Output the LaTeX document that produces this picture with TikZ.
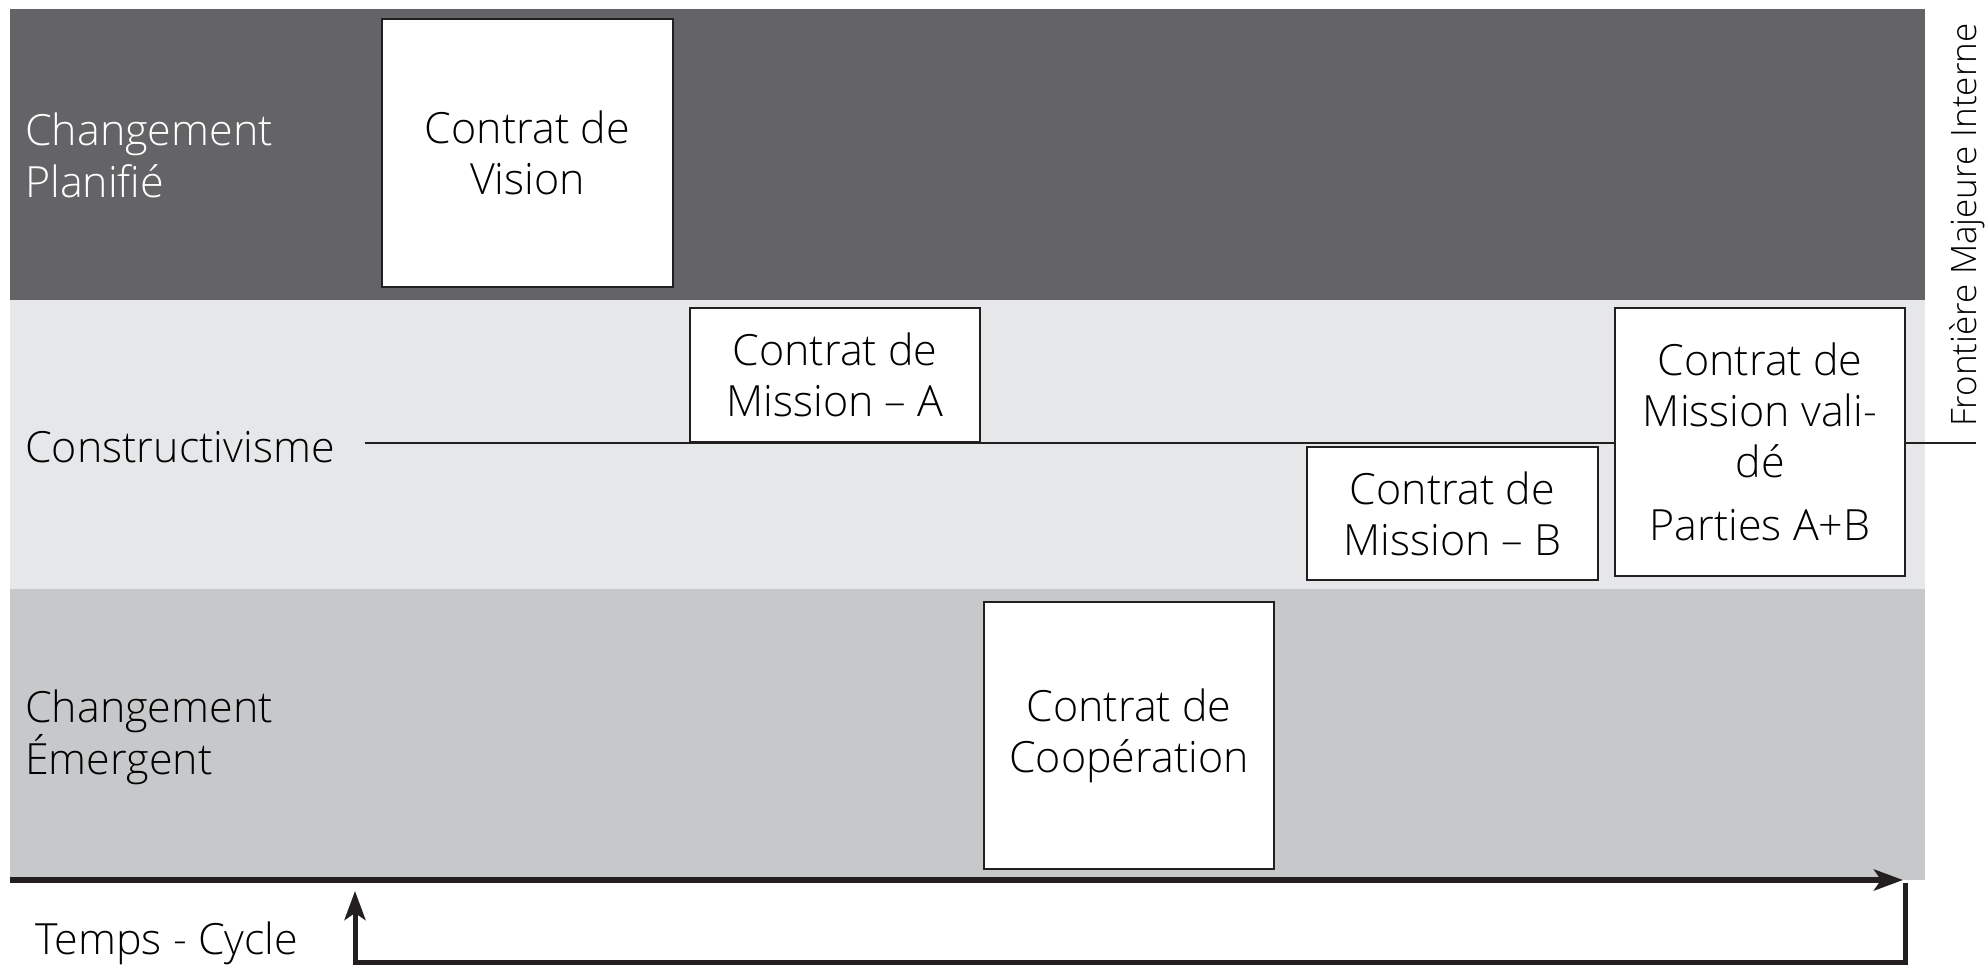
\documentclass[tikz,border=0pt]{standalone}
\usepackage{fontspec}
\setmainfont{Open Sans Light}
\usetikzlibrary{arrows.meta}
\definecolor{bandA}{HTML}{646466}
\definecolor{bandB}{HTML}{E6E7E8}
\definecolor{bandC}{HTML}{C7C8CA}
\definecolor{ink}{HTML}{231F20}
\tikzset{
  box/.style={draw=ink, line width=1.4pt, fill=white, align=center, inner sep=0pt, font=\fontsize{43}{51}\selectfont},
  lab/.style={anchor=west, align=left, inner sep=0pt, font=\fontsize{43}{52}\selectfont},
  thick line/.style={draw=ink, line width=5.5pt},
}
\begin{document}
\begin{tikzpicture}[x=1pt,y=-1pt]
\useasboundingbox (0,0) rectangle (1986,965);
% bands
\fill[bandA] (10,9) rectangle (1925,300);
\fill[bandB] (10,300) rectangle (1925,589);
\fill[bandC] (10,589) rectangle (1925,880);
% constructivisme line
\coordinate (l0) at (365,443);
\coordinate (l1) at (1976,443);
\draw[ink, line width=2.5pt] (l0) -- (l1);
% boxes
\node[box, minimum width=291pt, minimum height=268pt] (vision) at (527.5,153) {Contrat de\\Vision};
\node[box, minimum width=290pt, minimum height=134pt] (ma) at (835,375) {Contrat de\\Mission -- A};
\node[box, minimum width=291pt, minimum height=133pt] (mb) at (1452.5,513.5) {Contrat de\\Mission -- B};
\node[box, minimum width=290pt, minimum height=268pt] (mv) at (1760,442) {Contrat de\\Mission vali-\\dé\\[12pt]Parties A+B};
\node[box, minimum width=290pt, minimum height=267pt] (coop) at (1129,735.5) {Contrat de\\Coopération};
% labels
\node[lab, text=white] (lp) at (25,155) {Changement\\Planifié};
\node[lab] (lc) at (25,447) {Constructivisme};
\node[lab] (le) at (25,737) {Changement\\Émergent};
\node[lab] (lt) at (35,943) {Temps - Cycle};
\node[rotate=90, inner sep=0pt, font=\fontsize{35}{40}\selectfont] (fr) at (1967,225) {Frontière Majeure Interne};
% time arrow
\coordinate (t0) at (10,880);
\coordinate (t1) at (1903,880);
\draw[thick line, -{Stealth[length=29pt,width=21pt,inset=7pt]}] (t0) -- (t1);
% cycle feedback
\coordinate (c0) at (1905,883);
\coordinate (c1) at (1905,962);
\coordinate (c2) at (355,962);
\coordinate (c3) at (355,891);
\draw[ink, line width=5pt, -{Stealth[length=29pt,width=21pt,inset=7pt]}] (c0) -- (c1) -- (c2) -- (c3);
\end{tikzpicture}
\end{document}
